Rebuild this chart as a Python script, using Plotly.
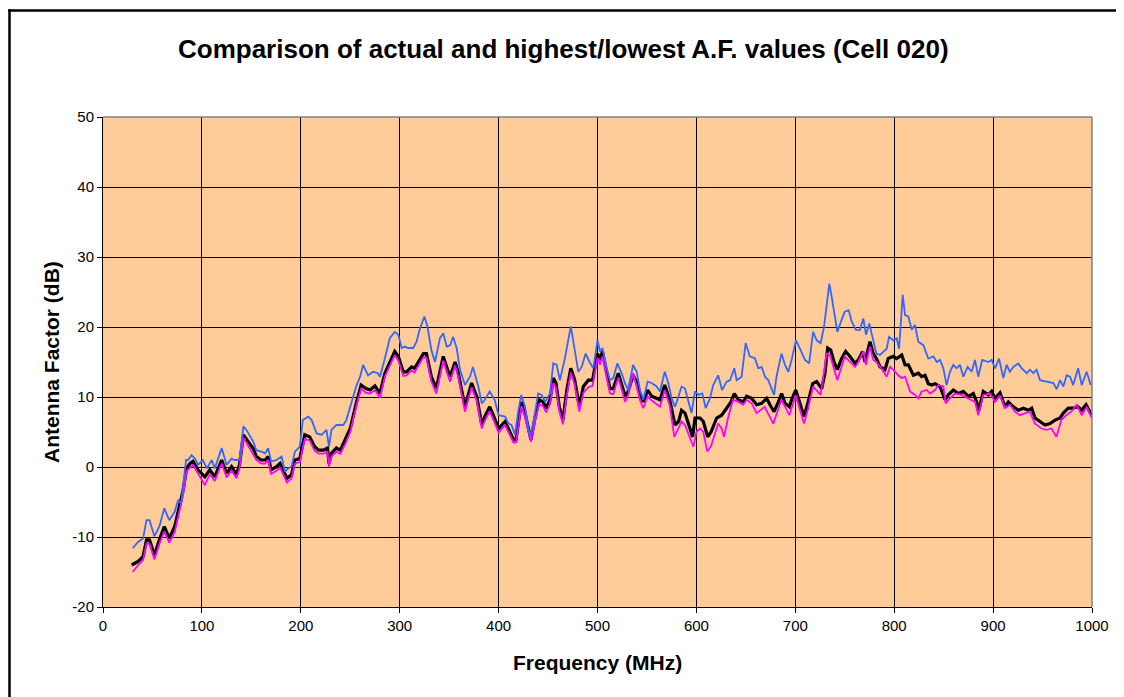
import plotly.graph_objects as go

# ---- data ----
highest_freq = [30, 35.5, 40.5, 44, 47, 52, 57, 62, 67, 72.5,
                76, 79, 84, 86, 89.5, 93, 96, 101, 105, 110,
                113, 120, 125, 130, 133, 138, 142, 145, 152, 155,
                160, 164, 167, 170, 175.5, 180.6, 184, 187, 190.7, 194,
                199, 202, 207.6, 211, 216, 221, 226, 228.5, 231, 236,
                243, 246, 251, 256, 260, 263, 268, 273, 278, 280,
                285, 290, 295, 298.6, 302, 305, 308.7, 313.7, 317, 320.5,
                325, 328, 332, 335.7, 340.7, 344, 347.5, 351, 354, 357.6,
                361, 366, 371, 374, 379.5, 383, 386, 391, 396, 400,
                406.5, 410, 413, 416.6, 420, 423, 426.7, 431.7, 435, 440,
                443.5, 447, 452, 455.3, 458.7, 462, 467, 473, 477, 480.6,
                484, 488, 492, 495.8, 500, 502.5, 505, 509, 512.6, 516,
                520, 524.4, 528, 531, 536, 539.6, 543, 546.3, 550.7, 554.8,
                559.8, 563.2, 568, 571.6, 575, 578.4, 582, 585, 588.5, 592,
                595, 598.6, 602, 606, 609.4, 613.7, 617, 622, 626, 630.6,
                634, 638.3, 640.7, 645.7, 649.8, 654, 659.3, 662.6, 666, 669.4,
                672.7, 676, 678.5, 681, 686, 689.6, 693, 696.3, 700.7, 704.7,
                709.8, 714, 718, 721.6, 725.6, 729, 731.7, 734.4, 736.8, 740,
                742.5, 745, 750, 754, 757, 761.4, 765.4, 768.8, 771.5, 774.8,
                778.9, 782, 785.6, 789, 792.4, 794.8, 799, 802.5, 804.9, 806.9,
                808.6, 811, 814.3, 817.7, 821, 824.4, 829.5, 834.5, 839.6, 843,
                846.3, 849.7, 853, 856.4, 859.8, 863.1, 866.5, 869.9, 874.3, 878.3,
                881.7, 885, 889, 895.2, 898.5, 902, 906, 910.3, 913.7, 917,
                920.5, 925.5, 929, 934, 937.3, 940.7, 944, 947.4, 954, 961,
                964.3, 967.7, 971, 974.4, 977.8, 981, 986, 989.6, 994.6, 998.7]
highest_af = [-11.6, -10.7, -10.2, -7.6, -7.6, -9.9, -8.5, -5.9, -7.6, -6.4,
              -4.7, -5.2, 1.0, 1.0, 1.7, 1.2, 0.3, 1.0, -0.2, 1.0,
              -0.2, 2.7, 0.3, 1.2, 1.0, 1.0, 5.8, 5.3, 3.6, 2.4,
              2.2, 1.95, 2.7, 0.8, 1.0, 1.5, -0.7, -0.2, 0.05, 2.2,
              2.9, 6.7, 7.2, 6.7, 4.8, 4.6, 5.3, 2.9, 5.3, 6.0,
              6.0, 6.7, 9.1, 11.5, 12.9, 14.6, 13.1, 13.6, 13.4, 12.9,
              15.5, 18.4, 19.3, 18.9, 17.0, 17.2, 17.0, 17.0, 17.9, 19.8,
              21.5, 20.1, 16.7, 15.0, 18.4, 19.1, 17.2, 17.4, 18.6, 17.0,
              13.9, 11.7, 12.9, 14.3, 11.5, 9.1, 9.6, 10.8, 9.6, 7.4,
              7.2, 6.2, 6.0, 4.6, 8.1, 10.3, 8.6, 4.3, 6.2, 10.5,
              10.3, 9.3, 10.5, 14.8, 14.6, 12.4, 15.5, 20.1, 16.7, 13.6,
              14.3, 16.2, 15.0, 14.1, 18.1, 16.5, 17.0, 14.3, 12.4, 12.7,
              14.8, 13.4, 11.9, 11.0, 14.6, 13.6, 11.0, 9.6, 12.2, 12.0,
              11.5, 10.8, 13.6, 12.0, 9.8, 8.6, 10.1, 11.5, 11.2, 9.1,
              7.7, 10.8, 10.3, 10.5, 8.4, 9.8, 11.7, 13.1, 11.0, 12.2,
              12.4, 14.1, 12.4, 12.9, 17.7, 15.8, 15.5, 14.1, 14.3, 12.9,
              12.4, 11.2, 10.3, 12.9, 16.2, 14.6, 13.6, 15.3, 18.1, 16.9,
              15.3, 14.8, 19.3, 18.1, 17.7, 20.0, 23.4, 26.2, 24.3, 21.2,
              19.3, 20.3, 22.2, 22.4, 20.8, 19.6, 19.6, 21.2, 18.9, 20.5,
              18.1, 16.2, 16.0, 16.5, 16.9, 18.6, 18.1, 18.4, 16.9, 21.0,
              24.6, 21.7, 21.5, 19.6, 20.3, 17.9, 17.4, 15.5, 15.8, 15.0,
              15.3, 14.1, 11.7, 13.6, 14.6, 14.1, 14.6, 12.9, 14.3, 13.6,
              15.3, 12.9, 15.3, 15.0, 15.3, 14.1, 15.5, 12.7, 14.6, 13.6,
              14.3, 14.8, 14.1, 13.4, 13.9, 13.4, 13.9, 12.4, 12.2, 12.0,
              11.1, 12.4, 11.5, 13.1, 12.9, 11.7, 14.1, 11.7, 13.6, 11.7]

actual_freq = [29, 35.5, 40.5, 44, 47, 52, 57, 62, 67, 72.5,
               81, 84.5, 88, 91, 96, 103, 108, 113, 120, 125,
               130, 135, 138, 142, 147, 152, 155, 160, 164, 167,
               170, 175.5, 179, 186, 190.7, 194, 199, 204, 209, 214,
               218, 223, 227, 228.5, 231, 236, 240, 245, 250, 256,
               261, 266, 270, 275, 280, 285, 290, 295, 298.6, 303.6,
               307, 312, 315, 318.8, 324, 327, 332, 337, 344, 347.5,
               351, 356, 359, 366, 372.7, 378, 383, 386, 391, 394.6,
               400, 406.5, 411.5, 415, 417.6, 423, 426.7, 432.7, 437, 441,
               445, 448, 452, 455.3, 458, 461.4, 465, 469, 473, 477,
               481.6, 485.7, 490.7, 495, 500, 502.5, 505, 509, 512.6, 516,
               521, 525, 528, 531, 536, 539.6, 543, 546.3, 550.7, 554.8,
               559.8, 563.2, 568, 573, 578.4, 582, 585, 588.5, 593.5, 596.2,
               598.6, 603.6, 607, 611.4, 614.8, 620.5, 625.5, 630.6, 635, 638.3,
               642.4, 647.4, 650.8, 655.8, 661, 666, 671, 674.4, 678.5, 682.9,
               686.2, 689.6, 694, 696.3, 700.4, 704.7, 708.8, 713, 717.6, 721.6,
               726.7, 730, 732.7, 735.8, 739.1, 742.5, 746.9, 750.9, 755.3, 760.4,
               763.7, 768.1, 770.5, 775.5, 778.9, 782, 785.7, 790.7, 794, 799,
               802.5, 807.6, 811, 814.3, 819.4, 824.4, 827.8, 831.2, 834.5, 837.9,
               841.3, 846.3, 851.4, 854.7, 859.8, 864.8, 869.9, 875, 880, 883.4,
               885.7, 890, 895.2, 898.5, 902, 907, 912, 915.4, 920.5, 925.5,
               930.6, 935.6, 939, 942.4, 947.4, 952.5, 957.5, 962.6, 967.7, 971,
               976, 981, 986, 989.6, 994, 999.7]
actual_af = [-14.0, -13.5, -12.8, -10.4, -10.4, -12.6, -10.4, -8.5, -10.2, -8.5,
             -3.3, -0.2, 0.5, 0.8, -0.4, -1.4, -0.4, -1.4, 1.0, -0.9,
             0.05, -1.1, 0.3, 4.6, 3.6, 2.6, 1.5, 1.0, 1.0, 1.5,
             -0.4, 0.05, 0.5, -1.6, -1.1, 1.0, 1.2, 4.6, 4.3, 2.9,
             2.4, 2.4, 2.7, 0.5, 1.95, 2.7, 2.4, 3.9, 5.5, 9.1,
             11.7, 11.2, 11.0, 11.6, 10.5, 13.4, 15.0, 16.5, 15.8, 13.6,
             13.6, 14.3, 14.1, 15.0, 16.2, 16.2, 12.9, 11.2, 15.8, 14.3,
             12.9, 15.0, 13.6, 8.6, 12.0, 10.0, 6.0, 7.2, 8.6, 7.4,
             5.5, 6.5, 5.1, 3.9, 3.9, 9.3, 7.7, 3.9, 7.2, 9.6,
             9.3, 8.4, 9.6, 12.7, 12.0, 8.6, 6.7, 11.0, 14.1, 12.4,
             8.6, 11.5, 12.4, 12.4, 16.2, 15.3, 16.5, 13.6, 11.2, 11.2,
             13.4, 11.5, 10.1, 10.8, 13.1, 12.2, 10.3, 9.3, 11.0, 10.1,
             9.8, 9.6, 11.7, 9.6, 6.0, 6.5, 8.1, 7.7, 5.5, 4.3,
             7.0, 7.0, 6.5, 4.3, 5.0, 7.0, 7.4, 8.4, 9.3, 10.5,
             9.6, 9.3, 10.1, 9.8, 8.9, 9.1, 9.8, 8.9, 7.9, 9.3,
             10.5, 9.1, 8.6, 9.6, 11.0, 9.1, 7.2, 9.3, 11.9, 12.2,
             11.2, 13.4, 17.0, 16.7, 15.0, 13.9, 15.5, 16.5, 15.8, 14.8,
             15.3, 16.5, 15.0, 17.9, 16.2, 15.5, 14.3, 13.9, 15.5, 15.8,
             15.5, 16.0, 14.6, 14.6, 13.1, 13.4, 12.9, 13.1, 11.9, 11.7,
             11.9, 11.5, 9.6, 10.3, 11.0, 10.5, 10.8, 10.1, 10.5, 9.3,
             8.1, 10.8, 10.3, 10.8, 9.8, 10.6, 8.6, 9.3, 8.6, 8.1,
             8.4, 8.1, 8.4, 7.0, 6.5, 6.0, 6.2, 6.7, 7.0, 7.7,
             8.4, 8.4, 8.6, 8.1, 8.9, 7.4]

lowest_freq = [30, 35.5, 40.5, 44, 47, 52, 57, 62, 67, 72.5,
               81, 84.5, 91, 96, 103, 108, 113, 120, 125, 130,
               135, 138, 142, 147, 152, 155, 160, 164, 167, 170,
               175.5, 179, 186, 190.7, 194, 199, 204, 209, 214, 218,
               223, 227, 228.5, 231, 236, 240, 245, 250, 256, 261,
               266, 270, 275, 280, 285, 290, 295, 298.6, 303.6, 307,
               312, 315, 318.8, 324, 327, 332, 337, 344, 347.5, 351,
               356, 359, 366, 372.7, 378, 383, 386, 391, 394.6, 400,
               406.5, 411.5, 415, 417.6, 423, 426.7, 432.7, 437, 441, 445,
               448, 452, 455.3, 458, 461.4, 465, 469, 473, 477, 481.6,
               485.7, 490.7, 495, 500, 502.5, 505, 509, 512.6, 516, 521,
               525, 528, 531, 536, 539.6, 543, 546.3, 550.7, 554.8, 559.8,
               563.2, 568, 573, 577.7, 582, 585, 588.5, 593.5, 597, 600,
               603.6, 607, 611, 614.8, 617, 622, 625.5, 628, 632, 637,
               642.4, 647.4, 650.8, 655.8, 661, 669, 677.8, 686, 694, 700.4,
               708.8, 713, 718, 725.6, 731.7, 735, 742.5, 750, 760.4, 763.7,
               768.8, 771.5, 775.5, 778.9, 782, 787, 792.4, 795.8, 799, 804,
               807.6, 811, 816, 821, 824.4, 827.8, 832.8, 836.2, 841.3, 844.6,
               849.7, 852, 856.4, 861.5, 868, 875, 881.7, 885, 890, 897,
               902, 907, 912, 917, 922, 927, 932, 937, 942.4, 949,
               954, 959, 964, 969, 974, 979, 984.5, 989.6, 994.6, 999.7]
lowest_af = [-15.0, -14.0, -13.3, -10.9, -11.0, -13.2, -11.0, -9.2, -10.8, -9.3,
             -4.0, -0.6, 0.3, -0.9, -2.6, -1.0, -2.0, 0.5, -1.5, -0.5,
             -1.6, -0.2, 4.2, 3.0, 1.8, 1.0, 0.5, 0.5, 1.0, -1.0,
             -0.5, -0.1, -2.2, -1.6, 0.5, 0.7, 4.0, 3.8, 2.3, 1.9,
             1.9, 2.2, 0.05, 1.5, 2.2, 1.9, 3.3, 5.0, 8.6, 11.2,
             10.6, 10.5, 11.0, 9.9, 12.9, 14.4, 16.0, 15.2, 13.0, 13.1,
             13.8, 13.5, 14.4, 15.7, 15.6, 12.2, 10.5, 15.2, 13.6, 12.2,
             14.5, 13.0, 7.9, 11.4, 9.4, 5.5, 6.6, 8.0, 6.8, 4.9,
             6.0, 4.5, 3.5, 3.5, 8.7, 7.1, 3.6, 6.6, 9.0, 8.7,
             7.8, 9.0, 12.0, 11.4, 8.0, 6.1, 10.3, 13.5, 11.7, 7.9,
             10.6, 11.4, 11.6, 15.6, 14.6, 15.8, 12.9, 10.5, 10.4, 12.8,
             10.8, 9.3, 10.3, 13.4, 11.5, 9.5, 8.4, 10.1, 9.5, 9.0,
             8.6, 11.0, 8.8, 4.3, 5.5, 6.5, 6.0, 4.0, 2.9, 5.0,
             5.5, 5.0, 2.2, 3.0, 3.9, 6.2, 5.5, 4.3, 7.0, 9.6,
             9.3, 8.9, 9.6, 9.1, 7.7, 8.6, 6.2, 9.6, 7.4, 10.3,
             6.2, 8.4, 11.5, 10.3, 16.2, 16.0, 12.4, 15.8, 14.3, 15.0,
             16.5, 14.6, 17.2, 15.3, 15.0, 14.1, 12.9, 14.3, 13.9, 13.1,
             12.7, 12.9, 10.8, 10.3, 9.8, 10.8, 11.0, 10.5, 11.0, 11.7,
             11.5, 9.1, 9.8, 10.5, 10.3, 9.8, 9.3, 7.4, 10.3, 10.5,
             9.3, 10.2, 8.4, 8.9, 7.9, 7.4, 7.7, 7.9, 6.2, 5.5,
             5.3, 5.5, 4.3, 6.7, 7.4, 7.9, 8.9, 7.4, 8.6, 7.0]

x_ticks = [0, 100, 200, 300, 400, 500, 600, 700, 800, 900, 1000]
y_ticks = [-20, -10, 0, 10, 20, 30, 40, 50]

title_text = "Comparison of actual and highest/lowest A.F. values (Cell 020)"
x_title = "Frequency (MHz)"
y_title = "Antenna Factor (dB)"

FONT = "Liberation Sans, Arial, sans-serif"

# The page body adds an 8px margin; work in screen pixels and shift.
OFF = 8
W, H = 1124 - OFF, 697 - OFF
L, R, T, B = 103 - OFF, 1092 - OFF, 117 - OFF, 607 - OFF


def px(xs):
    return (xs - OFF - L) / (R - L)


def py(ys):
    return (B - (ys - OFF)) / (B - T)


fig = go.Figure()
fig.add_trace(go.Scatter(x=actual_freq, y=actual_af, mode="lines",
                         line=dict(color="#000000", width=3.2),
                         name="Actual"))
fig.add_trace(go.Scatter(x=lowest_freq, y=lowest_af, mode="lines",
                         line=dict(color="#FF00FF", width=1.8),
                         name="Lowest"))
fig.add_trace(go.Scatter(x=highest_freq, y=highest_af, mode="lines",
                         line=dict(color="#3366FF", width=1.8),
                         name="Highest"))

fig.update_layout(
    width=W, height=H,
    margin=dict(l=L, r=W - R, t=T, b=H - B, pad=0),
    paper_bgcolor="white",
    plot_bgcolor="#FFCC99",
    showlegend=False,
    font=dict(family=FONT, color="black"),
    xaxis=dict(range=[0, 1000], tickvals=x_ticks, ticktext=[str(v) for v in x_ticks],
               showgrid=True, gridcolor="#000000", gridwidth=1,
               ticks="outside", ticklen=5, tickcolor="black", tickwidth=1,
               showline=True, linecolor="black", linewidth=1,
               zeroline=False, tickfont=dict(size=15, family=FONT)),
    yaxis=dict(range=[-20, 50], tickvals=y_ticks, ticktext=[str(v) for v in y_ticks],
               showgrid=True, gridcolor="#000000", gridwidth=1,
               ticks="outside", ticklen=5, tickcolor="black", tickwidth=1,
               showline=True, linecolor="black", linewidth=1,
               zeroline=False, tickfont=dict(size=15, family=FONT)),
    annotations=[
        dict(text="<b>" + title_text + "</b>", xref="paper", yref="paper",
             x=px(563), y=py(49), xanchor="center", yanchor="middle",
             showarrow=False, font=dict(size=26, family=FONT)),
        dict(text="<b>" + x_title + "</b>", xref="paper", yref="paper",
             x=0.5, y=py(662), xanchor="center", yanchor="middle",
             showarrow=False, font=dict(size=21, family=FONT)),
        dict(text="<b>" + y_title + "</b>", xref="paper", yref="paper",
             x=px(51), y=0.5, xanchor="center", yanchor="middle", textangle=-90,
             showarrow=False, font=dict(size=21, family=FONT)),
    ],
    shapes=[
        dict(type="line", xref="paper", yref="paper", x0=0, x1=1, y0=1, y1=1,
             line=dict(color="#808080", width=1.5), layer="above"),
        dict(type="line", xref="paper", yref="paper", x0=1, x1=1, y0=0, y1=1,
             line=dict(color="#808080", width=1.5), layer="above"),
        # outer chart frame: only the left and top edges are inside the picture
        dict(type="line", xref="paper", yref="paper",
             x0=px(9.5), x1=px(9.5), y0=py(710), y1=py(9.3),
             line=dict(color="black", width=2.5), layer="above"),
        dict(type="line", xref="paper", yref="paper",
             x0=px(8.3), x1=px(1130), y0=py(10.5), y1=py(10.5),
             line=dict(color="black", width=2.5), layer="above"),
    ],
)

fig.write_html("out.html")
